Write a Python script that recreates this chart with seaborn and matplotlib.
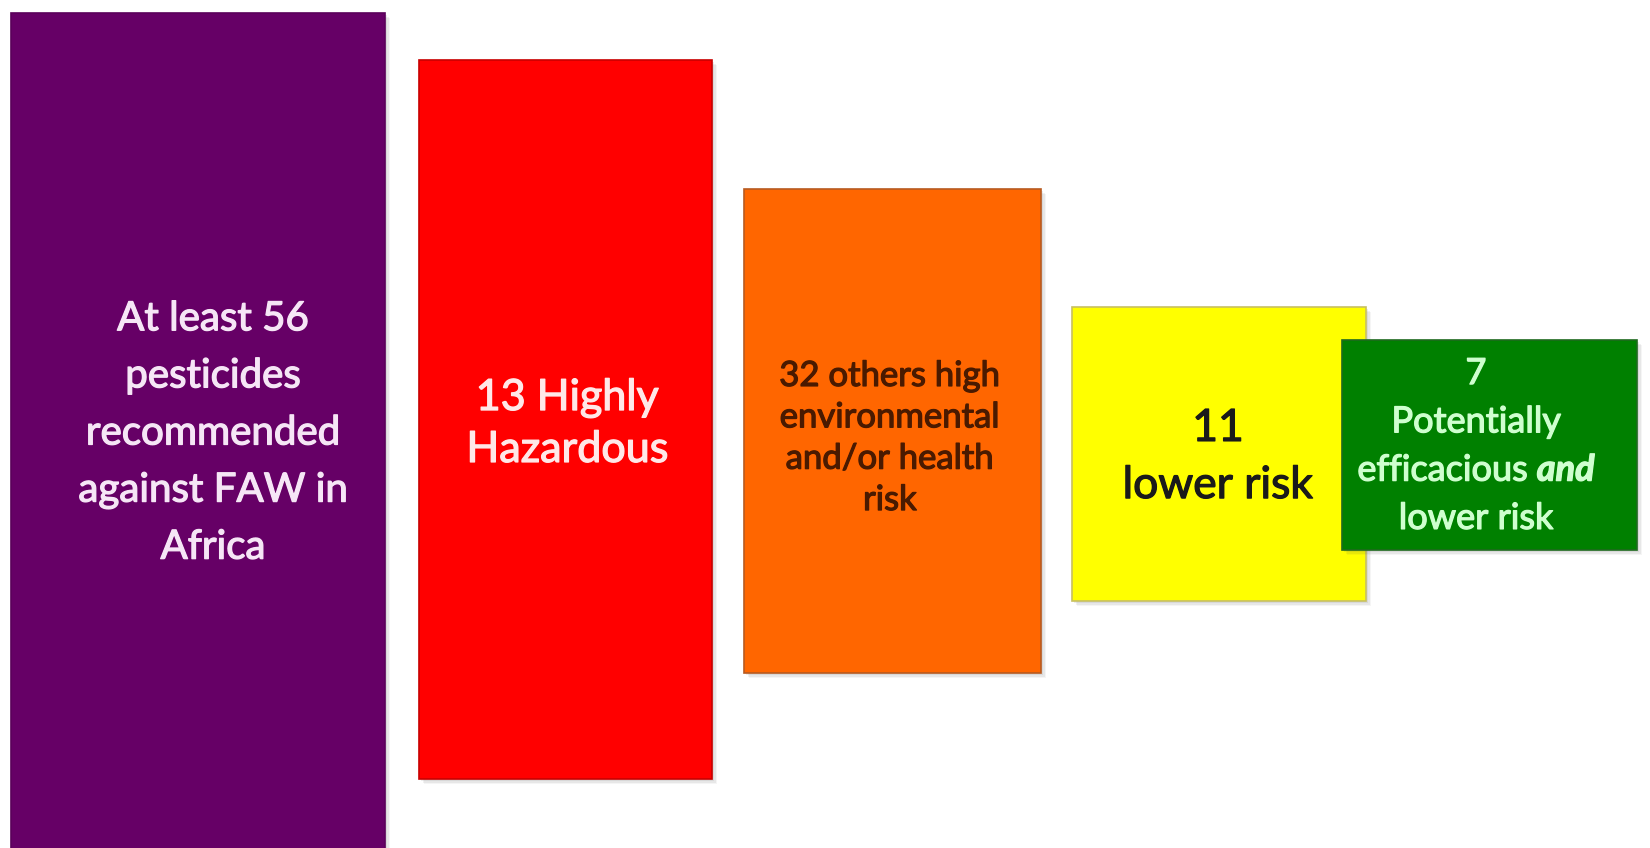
import matplotlib
matplotlib.use("Agg")
import matplotlib.pyplot as plt
from matplotlib.patches import Rectangle
from matplotlib.offsetbox import TextArea, HPacker, VPacker, AnnotationBbox
import matplotlib.patheffects as pe
import seaborn as sns

# Pesticide classification counts
counts = [56, 13, 32, 11, 7]
labels = [
    "At least {}\npesticides\nrecommended\nagainst FAW in\nAfrica",
    "{} Highly\nHazardous",
    "{} others high\nenvironmental\nand/or health\nrisk",
    "{}\nlower risk",
    "{}\nPotentially\nefficacious and\nlower risk",
]
box_colors = ["#660066", "#FF0000", "#FF6600", "#FFFF00", "#008000"]
edge_colors = ["#5a005a", "#c80000", "#b85a20", "#c8c060", "#1f6a1f"]
text_colors = ["#F6E6F6", "#FFE8E8", "#4A1A00", "#1A1A1A", "#CFFFCF"]
font_sizes = [29, 31, 25, 32, 26]
line_spacing = [1.67, 1.45, 1.36, 1.49, 1.0]

# Box extents on the diagram's canvas scale
box_left = [11, 419, 744, 1072, 1342]
box_right = [385, 712, 1041, 1366, 1637]
box_top = [13, 60, 189, 307, 340]
box_bottom = [860, 779, 673, 601, 550]

sns.set_theme(style="white")
plt.rcParams["font.family"] = ["Lato", "DejaVu Sans"]

fig = plt.figure(figsize=(16.5, 8.48), dpi=100)
ax = fig.add_axes([0, 0, 1, 1])
ax.set_xlim(0, 1650)
ax.set_ylim(848, 0)
ax.axis("off")

for i in range(len(counts)):
    w = box_right[i] - box_left[i]
    h = box_bottom[i] - box_top[i]
    # soft drop shadow
    for k, a in enumerate([0.10, 0.08, 0.06]):
        off = 2 + k * 1.5
        ax.add_patch(Rectangle((box_left[i] + off, box_top[i] + off), w, h,
                               facecolor="#555555", edgecolor="none",
                               alpha=a, zorder=2 * i + 1))
    ax.bar(box_left[i], h, width=w, bottom=box_top[i], align="edge",
           color=box_colors[i], edgecolor=edge_colors[i], linewidth=1.2,
           zorder=2 * i + 2)

text_x = [213, 567, 890, 1218, 1476]
text_y = [433, 424, 438, 457, 446]

for i in range(4):
    ax.text(text_x[i], text_y[i], labels[i].format(counts[i]),
            ha="center", va="center", color=text_colors[i],
            fontsize=font_sizes[i], linespacing=line_spacing[i], zorder=20,
            path_effects=[pe.withStroke(linewidth=0.9, foreground=text_colors[i])])

# Green box: one word in bold italic
g = 4
props = dict(color=text_colors[g], fontsize=font_sizes[g],
             family=["Lato", "DejaVu Sans"],
             path_effects=[pe.withStroke(linewidth=0.9, foreground=text_colors[g])])
lines = labels[g].format(counts[g]).split("\n")
rows = []
for line in lines:
    if line.endswith(" and"):
        head = line[:-len("and")]
        rows.append(HPacker(children=[
            TextArea(head, textprops=props),
            TextArea("and", textprops=dict(props, weight="bold", style="italic")),
        ], align="baseline", pad=0, sep=0))
    else:
        rows.append(TextArea(line, textprops=props))
pack = VPacker(children=rows, align="center", pad=0, sep=11)
ab = AnnotationBbox(pack, (text_x[g], text_y[g]), xycoords="data", frameon=False,
                    box_alignment=(0.5, 0.5), zorder=20)
ax.add_artist(ab)

fig.savefig("out.png", dpi=100, facecolor="white")
